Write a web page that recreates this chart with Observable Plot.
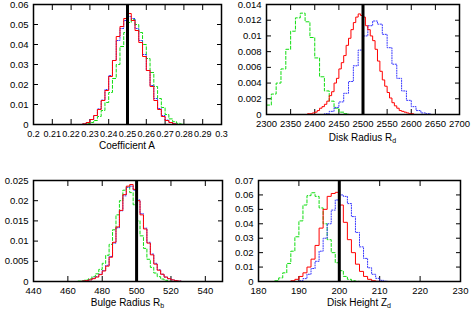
<!DOCTYPE html>
<html><head><meta charset="utf-8">
<script src="https://cdn.jsdelivr.net/npm/d3@7"></script>
<script src="https://cdn.jsdelivr.net/npm/@observablehq/plot@0.6"></script>
<style>
body{margin:0;background:#fff;}
#chart{position:relative;width:471px;height:309px;font-family:"Liberation Sans",Arial,sans-serif;}
#chart svg{position:absolute;}
</style></head><body><div id="chart"></div>
<script>
// ---------- Panel A : Coefficient A ----------
const binsA = [0.224,0.226,0.228,0.230,0.232,0.234,0.236,0.238,0.240,0.242,0.244,0.246,0.248,0.250,0.252,0.254,0.256,0.258,0.260,0.262,0.264,0.266,0.268,0.270,0.272,0.274,0.276,0.278,0.280];
const redA   = [0,0.0003,0.001,0.0025,0.0045,0.0075,0.012,0.017,0.024,0.032,0.044,0.049,0.053,0.0555,0.052,0.047,0.041,0.034,0.027,0.019,0.012,0.0075,0.004,0.002,0.001,0.0003,0,0,0];
const blueA  = [0,0.0003,0.001,0.0025,0.0045,0.0078,0.0122,0.0175,0.0245,0.032,0.042,0.048,0.052,0.054,0.053,0.048,0.042,0.035,0.027,0.0195,0.013,0.008,0.0045,0.0022,0.001,0.0004,0,0,0];
const greenA = [0,0.0001,0.0004,0.001,0.002,0.004,0.007,0.011,0.016,0.023,0.030,0.039,0.046,0.051,0.0525,0.050,0.046,0.040,0.033,0.026,0.019,0.013,0.0085,0.005,0.0028,0.0014,0.0006,0.0002,0];
const xTicksA = [0.2,0.21,0.22,0.23,0.24,0.25,0.26,0.27,0.28,0.29,0.3];
const yTicksA = [0,0.01,0.02,0.03,0.04,0.05,0.06];
const trueA = 0.25;

// ---------- Panel B : Disk Radius R_d ----------
const binsGreenB = [2300,2310,2320,2330,2340,2350,2360,2370,2380,2390,2400,2410,2420,2430,2440,2450,2460,2470];
const greenB = [0.0012,0.0026,0.0040,0.0058,0.0083,0.0106,0.0123,0.0129,0.0118,0.0098,0.0072,0.0048,0.0030,0.0017,0.0008,0.0003,0.0001,0];
const binsBlueB = [2410,2420,2430,2440,2450,2460,2470,2480,2490,2500,2510,2520,2530,2540,2550,2560,2570,2580,2590,2600,2610,2620,2630,2640];
const blueB = [0,0.0001,0.0004,0.0009,0.0016,0.0027,0.0042,0.0062,0.0082,0.0100,0.0113,0.0119,0.0115,0.0102,0.0085,0.0064,0.0046,0.0030,0.0018,0.0010,0.0005,0.0002,0.0001,0];
const binsRedB = [2380,2385,2390,2395,2400,2405,2410,2415,2420,2425,2430,2435,2440,2445,2450,2455,2460,2465,2470,2475,2480,2485,2490,2495,2500,2505,2510,2515,2520,2525,2530,2535,2540,2545,2550,2555,2560,2565,2570,2575,2580,2585,2590,2595,2600,2605];
const redB = [0,0.0001,0.0001,0.0002,0.0003,0.0005,0.0008,0.0010,0.0013,0.0017,0.0024,0.0029,0.0040,0.0046,0.0058,0.0066,0.0075,0.0088,0.0097,0.0108,0.0117,0.0124,0.0128,0.0126,0.0124,0.0113,0.0108,0.0100,0.0094,0.0083,0.0068,0.0055,0.0044,0.0036,0.0028,0.0021,0.0015,0.0011,0.0008,0.0005,0.0004,0.0003,0.0002,0.0001,0.0001,0];
const xTicksB = [2300,2350,2400,2450,2500,2550,2600,2650,2700];
const yTicksB = [0,0.002,0.004,0.006,0.008,0.01,0.012,0.014];
const trueB = 2500;

// ---------- Panel C : Bulge Radius R_b ----------
const binsC = [466,468,470,472,474,476,478,480,482,484,486,488,490,492,494,496,498,500,502,504,506,508,510,512,514,516,518,520,522,524,526];
const redC   = [0,0.0001,0.0002,0.0004,0.0007,0.0011,0.0017,0.0026,0.0038,0.0060,0.0097,0.0135,0.0176,0.0215,0.0236,0.0240,0.0228,0.0200,0.0165,0.0130,0.0095,0.0066,0.0043,0.0028,0.0018,0.0011,0.0007,0.0004,0.0002,0.0001,0];
const blueC  = [0,0.0001,0.0002,0.0004,0.0008,0.0012,0.0018,0.0027,0.0040,0.0062,0.0095,0.0133,0.0175,0.0212,0.0233,0.0236,0.0226,0.0202,0.0168,0.0132,0.0097,0.0068,0.0045,0.0029,0.0018,0.0011,0.0007,0.0004,0.0002,0.0001,0];
const greenC = [0.0001,0.0002,0.0004,0.0007,0.0012,0.0019,0.0030,0.0045,0.0065,0.0092,0.0128,0.0165,0.0200,0.0226,0.0234,0.0220,0.0190,0.0150,0.0113,0.0082,0.0055,0.0035,0.0021,0.0012,0.0006,0.0003,0.0001,0,0,0,0];
const xTicksC = [440,460,480,500,520,540];
const yTicksC = [0,0.005,0.01,0.015,0.02,0.025];
const trueC = 500;

// ---------- Panel D : Disk Height Z_d ----------
const binsD = [183,184,185,186,187,188,189,190,191,192,193,194,195,196,197,198,199,200,201,202,203,204,205,206,207,208,209,210,211,212];
const greenD = [0,0.0005,0.0025,0.006,0.0125,0.021,0.031,0.042,0.053,0.0595,0.0615,0.059,0.051,0.040,0.029,0.020,0.013,0.0075,0.0035,0.0015,0.0005,0.0001,0,0,0,0,0,0,0,0];
const redD   = [0,0,0,0,0,0.0005,0.0015,0.0035,0.006,0.010,0.0155,0.025,0.037,0.050,0.059,0.061,0.0618,0.053,0.041,0.029,0.020,0.012,0.007,0.0035,0.0015,0.0005,0.0001,0,0,0];
const blueD  = [0,0,0,0,0,0,0,0.0005,0.002,0.005,0.009,0.014,0.021,0.030,0.040,0.0495,0.0565,0.060,0.059,0.054,0.045,0.034,0.024,0.016,0.0095,0.005,0.0022,0.0008,0.0002,0];
const xTicksD = [180,190,200,210,220,230];
const yTicksD = [0,0.01,0.02,0.03,0.04,0.05,0.06,0.07];
const trueD = 200;

const fmt = d => String(d);
const rows = (xs, ys) => xs.map((x, i) => ({x, y: ys[i]}));

function panel({left, top, width, height, mL, mR, mT, mB, xDomain, yDomain, xTicks, yTicks, xFont, xPad,
                green, blue, red, truth, label, sub, labelY}) {
  const plot = Plot.plot({
    width, height, marginLeft: mL, marginRight: mR, marginTop: mT, marginBottom: mB,
    style: {fontSize: "9.5px", fontFamily: '"Liberation Sans", Arial, sans-serif', background: "transparent", color: "black"},
    x: {domain: xDomain},
    y: {domain: yDomain},
    marks: [
      Plot.axisX(xTicks, {anchor: "bottom", tickSize: -5, tickPadding: xPad, tickFormat: fmt, label: null, fontSize: xFont}),
      Plot.axisX(xTicks, {anchor: "top", tickSize: -5, tickPadding: 0, tickFormat: () => "", label: null}),
      Plot.axisY(yTicks, {anchor: "left", tickSize: -5, tickPadding: 10, tickFormat: fmt, label: null}),
      Plot.axisY(yTicks, {anchor: "right", tickSize: -5, tickPadding: 0, tickFormat: () => "", label: null}),
      Plot.line(green, {x: "x", y: "y", curve: "step-after", stroke: "#11dd11", strokeWidth: 1, strokeDasharray: "3,2"}),
      Plot.line(blue, {x: "x", y: "y", curve: "step-after", stroke: "#3333ff", strokeWidth: 1, strokeDasharray: "1,1.5"}),
      Plot.line(red, {x: "x", y: "y", curve: "step-after", stroke: "#ff0000", strokeWidth: 1}),
      Plot.ruleX([truth], {stroke: "black", strokeWidth: 3}),
      Plot.frame({stroke: "black", strokeWidth: 1.5})
    ]
  });
  plot.style.left = left + "px";
  plot.style.top = top + "px";
  const cx = mL + (width - mL - mR) / 2;
  const t = d3.select(plot).append("text")
    .attr("x", cx).attr("y", labelY).attr("text-anchor", "middle")
    .attr("font-size", 10).attr("fill", "black").attr("dominant-baseline", "middle");
  t.append("tspan").text(label);
  if (sub) t.append("tspan").attr("dy", 3).attr("font-size", 7).text(sub);
  document.getElementById("chart").appendChild(plot);
}

panel({left: 0, top: 0, width: 235, height: 155, mL: 33, mR: 14, mT: 4, mB: 31,
  xDomain: [0.2, 0.3], yDomain: [0, 0.06], xTicks: xTicksA, yTicks: yTicksA, xFont: 9, xPad: 11,
  green: rows(binsA, greenA), blue: rows(binsA, blueA), red: rows(binsA, redA), truth: trueA,
  label: "Coefficient A", sub: null, labelY: 146});

panel({left: 235, top: 0, width: 236, height: 155, mL: 31, mR: 12, mT: 4, mB: 41,
  xDomain: [2300, 2700], yDomain: [0, 0.014], xTicks: xTicksB, yTicks: yTicksB, xFont: 9.5, xPad: 11,
  green: rows(binsGreenB, greenB), blue: rows(binsBlueB, blueB), red: rows(binsRedB, redB), truth: trueB,
  label: "Disk Radius R", sub: "d", labelY: 138});

panel({left: 0, top: 155, width: 235, height: 154, mL: 33, mR: 13, mT: 25, mB: 28,
  xDomain: [440, 550], yDomain: [0, 0.025], xTicks: xTicksC, yTicks: yTicksC, xFont: 9.5, xPad: 11,
  green: rows(binsC, greenC), blue: rows(binsC, blueC), red: rows(binsC, redC), truth: trueC,
  label: "Bulge Radius R", sub: "b", labelY: 147.5});

panel({left: 235, top: 155, width: 236, height: 154, mL: 23, mR: 11, mT: 25, mB: 28,
  xDomain: [180, 230], yDomain: [0, 0.07], xTicks: xTicksD, yTicks: yTicksD, xFont: 9.5, xPad: 11,
  green: rows(binsD, greenD), blue: rows(binsD, blueD), red: rows(binsD, redD), truth: trueD,
  label: "Disk Height Z", sub: "d", labelY: 147.5});
</script></body></html>
